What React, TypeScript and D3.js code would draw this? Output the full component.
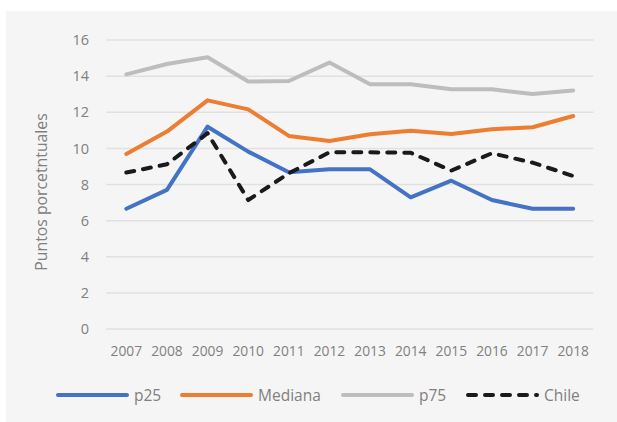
import React, { useEffect, useRef } from "react";
import * as d3 from "d3";

const years = ["2007", "2008", "2009", "2010", "2011", "2012", "2013", "2014", "2015", "2016", "2017", "2018"];
const p25 = [6.66, 7.7, 11.2, 9.82, 8.68, 8.84, 8.84, 7.29, 8.21, 7.14, 6.66, 6.66];
const mediana = [9.69, 10.93, 12.66, 12.16, 10.69, 10.41, 10.78, 10.98, 10.8, 11.06, 11.17, 11.79];
const p75 = [14.1, 14.67, 15.04, 13.7, 13.73, 14.75, 13.55, 13.55, 13.27, 13.27, 13.01, 13.2];
const chile = [8.66, 9.12, 10.84, 7.14, 8.62, 9.78, 9.78, 9.76, 8.77, 9.73, 9.21, 8.47];
const yTicks = [0, 2, 4, 6, 8, 10, 12, 14, 16];

const seriesList = [
  { name: "p25", values: p25, color: "#4472C4", dash: null },
  { name: "Mediana", values: mediana, color: "#ED7D31", dash: null },
  { name: "p75", values: p75, color: "#BDBDBD", dash: null },
  { name: "Chile", values: chile, color: "#1a1a1a", dash: "8 9" },
];

const W = 617;
const H = 422;
const font = "'Open Sans', sans-serif";

export default function App() {
  const svgRef = useRef<SVGSVGElement>(null);

  useEffect(() => {
    const svg = d3.select(svgRef.current);
    svg.selectAll("*").remove();

    // background panel
    svg.append("rect").attr("x", 6).attr("y", 11).attr("width", W - 6).attr("height", H - 11).attr("fill", "#f5f5f5");

    const xScale = d3.scaleBand().domain(years).range([106, 593.5]);
    const yScale = d3.scaleLinear().domain([0, 16]).range([329, 40]);

    // gridlines
    svg.append("g")
      .selectAll("line")
      .data(yTicks)
      .join("line")
      .attr("x1", 106)
      .attr("x2", 593.5)
      .attr("y1", d => yScale(d))
      .attr("y2", d => yScale(d))
      .attr("stroke", "#e1e1e1")
      .attr("stroke-width", 1.5);

    // y tick labels
    svg.append("g")
      .selectAll("text")
      .data(yTicks)
      .join("text")
      .attr("x", 89)
      .attr("y", d => yScale(d))
      .attr("dy", "0.36em")
      .attr("text-anchor", "end")
      .attr("font-family", font)
      .attr("font-size", 14.5)
      .attr("fill", "#808080")
      .text(d => d);

    // x tick labels
    svg.append("g")
      .selectAll("text")
      .data(years)
      .join("text")
      .attr("x", d => (xScale(d) ?? 0) + xScale.bandwidth() / 2)
      .attr("y", 356)
      .attr("text-anchor", "middle")
      .attr("font-family", font)
      .attr("font-size", 13.8)
      .attr("fill", "#808080")
      .text(d => d);

    // y axis title
    svg.append("text")
      .attr("transform", "translate(47,192) rotate(-90)")
      .attr("text-anchor", "middle")
      .attr("font-family", font)
      .attr("font-size", 15.8)
      .attr("fill", "#808080")
      .text("Puntos porcetntuales");

    const line = d3.line<number>()
      .x((_, i) => (xScale(years[i]) ?? 0) + xScale.bandwidth() / 2)
      .y(d => yScale(d));

    seriesList.forEach(s => {
      svg.append("path")
        .datum(s.values)
        .attr("d", line)
        .attr("fill", "none")
        .attr("stroke", s.color)
        .attr("stroke-width", 4)
        .attr("stroke-linejoin", "round")
        .attr("stroke-linecap", "round")
        .attr("stroke-dasharray", s.dash);
    });

    // legend
    const legendX = [58, 182, 343, 468];
    const legend = svg.append("g")
      .selectAll("g")
      .data(seriesList)
      .join("g")
      .attr("transform", (_, i) => `translate(${legendX[i]},395)`);
    legend.append("line")
      .attr("x1", 0)
      .attr("x2", 69)
      .attr("stroke", d => d.color)
      .attr("stroke-width", 4)
      .attr("stroke-linecap", "round")
      .attr("stroke-dasharray", d => d.dash);
    legend.append("text")
      .attr("x", 76)
      .attr("dy", "0.36em")
      .attr("font-family", font)
      .attr("font-size", 15.5)
      .attr("fill", "#808080")
      .text(d => d.name);
  }, []);

  return (
    <svg
      ref={svgRef}
      width={W}
      height={H}
      style={{ position: "fixed", left: 0, top: 0, background: "#fff" }}
    />
  );
}
